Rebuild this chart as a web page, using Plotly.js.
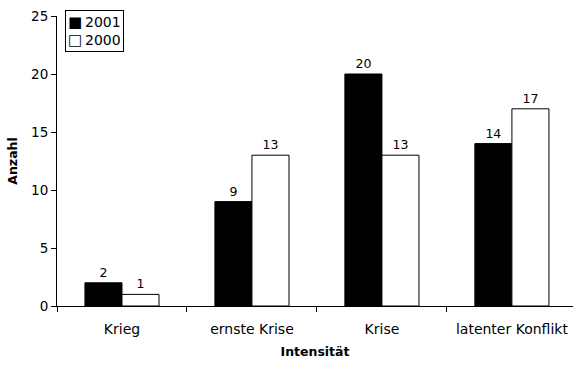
<!DOCTYPE html>
<html>
<head>
<meta charset="utf-8">
<script src="https://cdn.plot.ly/plotly-3.0.1.min.js"></script>
<style>html,body{margin:0;padding:0;background:#fff;}#chart{width:573px;height:365px;}</style>
</head>
<body>
<div id="chart"></div>
<script>
// Konflikte nach Intensität, Vergleich 2001 / 2000
const categories = ['Krieg', 'ernste Krise', 'Krise', 'latenter Konflikt'];
const values2001 = [2, 9, 20, 14];
const values2000 = [1, 13, 13, 17];
const seriesNames = ['2001', '2000'];
const yTicks = [0, 5, 10, 15, 20, 25];

const font = 'DejaVu Sans, Arial, sans-serif';

const traces = [
  {
    type: 'bar', name: seriesNames[0], x: categories, y: values2001,
    text: values2001.map(String), textposition: 'outside',
    textfont: {family: font, size: 12.5, color: '#000'},
    marker: {color: '#000', line: {color: '#000', width: 1}},
    cliponaxis: false
  },
  {
    type: 'bar', name: seriesNames[1], x: categories, y: values2000,
    text: values2000.map(String), textposition: 'outside',
    textfont: {family: font, size: 12.5, color: '#000'},
    marker: {color: '#fff', line: {color: '#000', width: 1}},
    cliponaxis: false
  }
];

// compact boxed key in the upper-left corner
const keyText = '<span style="font-size:15px">\u25A0</span>\u2009' + seriesNames[0] +
  '<br><span style="font-size:15px">\u25A1</span>\u2009' + seriesNames[1];

const layout = {
  width: 573, height: 365,
  margin: {l: 57, r: 0, t: 16, b: 59},
  paper_bgcolor: '#fff', plot_bgcolor: '#fff',
  font: {family: font, size: 12, color: '#000'},
  barmode: 'group', bargap: 0.43, bargroupgap: 0,
  showlegend: false,
  annotations: [{
    xref: 'paper', yref: 'paper', x: 0.0155, y: 1.021,
    xanchor: 'left', yanchor: 'top', align: 'left', showarrow: false,
    text: keyText, font: {family: font, size: 14, color: '#000'},
    bordercolor: '#000', borderwidth: 1, borderpad: 2, bgcolor: '#fff'
  }],
  xaxis: {
    type: 'category', range: [-0.5, 3.47],
    tickson: 'boundaries', ticks: 'outside', ticklen: 5, tickcolor: '#000',
    showline: true, linecolor: '#000', linewidth: 1,
    showgrid: false, zeroline: false,
    ticklabelstandoff: 10,
    tickfont: {family: font, size: 14, color: '#000'},
    title: {text: 'Intensität', font: {family: font, size: 12.5, color: '#000', weight: 'bold'}, standoff: 11}
  },
  yaxis: {
    range: [0, 25], tickmode: 'array', tickvals: yTicks,
    ticks: 'outside', ticklen: 5, tickcolor: '#000',
    showline: true, linecolor: '#000', linewidth: 1,
    showgrid: false, zeroline: false,
    tickfont: {family: font, size: 13.5, color: '#000'},
    title: {text: 'Anzahl', font: {family: font, size: 12.5, color: '#000', weight: 'bold'}, standoff: 10}
  }
};

Plotly.newPlot('chart', traces, layout, {displayModeBar: false, staticPlot: true});
</script>
</body>
</html>
